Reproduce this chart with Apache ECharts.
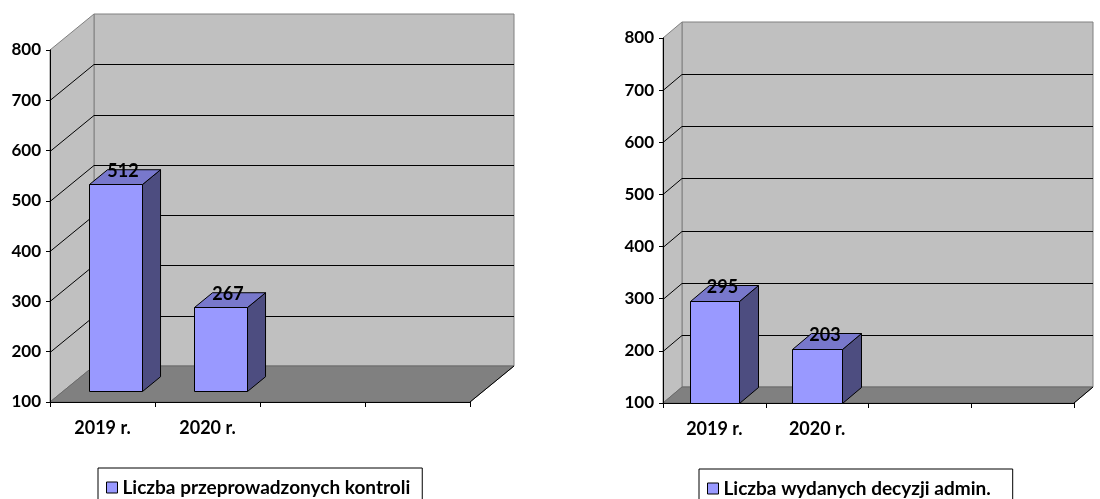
<!DOCTYPE html>
<html>
<head>
<meta charset="utf-8">
<script src="https://cdn.jsdelivr.net/npm/echarts@6/dist/echarts.min.js"></script>
<style>
html,body{margin:0;padding:0;background:#fff;}
#chart{width:1100px;height:499px;}
</style>
</head>
<body>
<div id="chart"></div>
<script>
// ---- data ----
const categories = ['2019 r.', '2020 r.', '', ''];
const controls = [512, 267];
const decisions = [295, 203];
const yTicks = [100, 200, 300, 400, 500, 600, 700, 800];
const seriesNames = ['Liczba przeprowadzonych kontroli', 'Liczba wydanych decyzji admin.'];

// ---- style / layout ----
const FONT = 'Lato';
const panels = [
  { grid: { left: 50, top: 50, width: 420, height: 352 }, dx: 44, dy: -36, d0: 0.3, d1: 0.71, bw: 0.5,
    values: controls, name: seriesNames[0], legendPos: { left: 98, top: 468 }, legendPadR: 12 },
  { grid: { left: 663, top: 38, width: 411, height: 365 }, dx: 19, dy: -16, d0: 0, d1: 1, bw: 0.48,
    values: decisions, name: seriesNames[1], legendPos: { left: 699, top: 469 }, legendPadR: 22 }
];

function r5(v) { return Math.round(v) + 0.5; }

function wallsRender(p) {
  return function (params, api) {
    const cs = params.coordSys;
    const x0 = Math.round(cs.x), x1 = Math.round(cs.x + cs.width);
    const yt = Math.round(cs.y), yb = Math.round(cs.y + cs.height);
    const dx = p.dx, dy = p.dy;
    const ch = [];
    ch.push({ type: 'polygon', shape: { points: [[x0 + dx, yt + dy], [x1 + dx, yt + dy], [x1 + dx, yb + dy], [x0 + dx, yb + dy]] },
      style: { fill: '#c0c0c0', stroke: '#808080', lineWidth: 1 } });
    ch.push({ type: 'polygon', shape: { points: [[x0, yt], [x0 + dx, yt + dy], [x0 + dx, yb + dy], [x0, yb]] },
      style: { fill: '#c0c0c0', stroke: '#808080', lineWidth: 1 } });
    yTicks.forEach(function (v, i) {
      if (i === 0 || i === yTicks.length - 1) return;
      const y = api.coord([0, v])[1];
      ch.push({ type: 'polyline', shape: { points: [[x0, r5(y)], [x0 + dx, r5(y + dy)], [x1 + dx, r5(y + dy)]] },
        style: { stroke: '#000', lineWidth: 1, fill: null } });
    });
    ch.push({ type: 'polygon', shape: { points: [[x0, yb], [x1, yb], [x1 + dx, yb + dy], [x0 + dx, yb + dy]] },
      style: { fill: '#808080', stroke: '#6a6a6a', lineWidth: 1 } });
    ch.push({ type: 'line', shape: { x1: x1, y1: yb, x2: x1 + dx, y2: yb + dy },
      style: { stroke: '#000', lineWidth: 1 } });
    return { type: 'group', children: ch };
  };
}

function barRender(p) {
  return function (params, api) {
    const cat = api.value(0), v = api.value(1);
    const top = api.coord([cat, v]);
    const bot = api.coord([cat, yTicks[0]]);
    const bandW = api.size([1, 0])[0];
    const w = bandW * p.bw;
    const ox0 = p.dx * p.d0, oy0 = p.dy * p.d0;
    const ddx = p.dx * (p.d1 - p.d0), ddy = p.dy * (p.d1 - p.d0);
    const xl = Math.round(top[0] - w / 2 + ox0) + 0.5, xr = Math.round(top[0] + w / 2 + ox0) + 0.5;
    const yt = Math.round(top[1] + oy0) + 0.5, yb = Math.round(bot[1] + oy0) + 0.5;
    const st = { stroke: '#000', lineWidth: 1 };
    return { type: 'group', children: [
      { type: 'polygon', shape: { points: [[xr, yt], [xr + ddx, yt + ddy], [xr + ddx, yb + ddy], [xr, yb]] },
        style: Object.assign({ fill: '#4d4d80' }, st) },
      { type: 'polygon', shape: { points: [[xl, yt], [xr, yt], [xr + ddx, yt + ddy], [xl + ddx, yt + ddy]] },
        style: Object.assign({ fill: '#7878cc' }, st) },
      { type: 'rect', shape: { x: xl, y: yt, width: xr - xl, height: yb - yt },
        style: Object.assign({ fill: '#9999ff' }, st) },
      { type: 'text', x: (xl + xr) / 2 + ddx / 2 - 2, y: yt + ddy / 2 - 6,
        style: { text: String(v), fill: '#000', font: 'bold 18px ' + FONT, align: 'center', verticalAlign: 'middle' } }
    ] };
  };
}

const option = { animation: false, backgroundColor: '#fff', grid: [], xAxis: [], yAxis: [], series: [], legend: [] };
panels.forEach(function (p, i) {
  option.grid.push(Object.assign({ containLabel: false }, p.grid));
  option.xAxis.push({ type: 'category', gridIndex: i, data: categories,
    axisLine: { show: true, lineStyle: { color: '#000', width: 1 } },
    axisTick: { show: true, length: 5, lineStyle: { color: '#000' } },
    axisLabel: { color: '#000', fontFamily: FONT, fontWeight: 'bold', fontSize: 18, margin: 17 },
    splitLine: { show: false } });
  option.yAxis.push({ type: 'value', gridIndex: i, min: yTicks[0], max: yTicks[yTicks.length - 1], interval: 100,
    axisLine: { show: true, lineStyle: { color: '#000', width: 1 } },
    axisTick: { show: true, length: 4, lineStyle: { color: '#000' } },
    axisLabel: { color: '#000', fontFamily: FONT, fontWeight: 'bold', fontSize: 17, margin: 9 },
    splitLine: { show: false } });
  option.series.push({ type: 'custom', name: 'walls' + i, xAxisIndex: i, yAxisIndex: i, z: -5,
    data: [[0, yTicks[0]]], encode: { x: 0, y: 1 }, renderItem: wallsRender(p), silent: true });
  option.series.push({ type: 'custom', name: p.name, xAxisIndex: i, yAxisIndex: i, z: 5,
    itemStyle: { color: '#9999ff' },
    data: p.values.map(function (v, k) { return [k, v]; }), encode: { x: 0, y: 1 }, renderItem: barRender(p) });
  option.legend.push({ data: [{ name: p.name, icon: 'rect', itemStyle: { color: '#9999ff', borderColor: '#000', borderWidth: 1 } }],
    left: p.legendPos.left, top: p.legendPos.top, orient: 'horizontal',
    itemWidth: 11, itemHeight: 11, itemGap: 5,
    padding: [10, p.legendPadR, 12, 8], borderColor: '#000', borderWidth: 1, backgroundColor: '#fff',
    textStyle: { color: '#000', fontFamily: FONT, fontWeight: 'bold', fontSize: 19 } });
});

const chart = echarts.init(document.getElementById('chart'), null, { renderer: 'canvas' });
chart.setOption(option);
</script>
</body>
</html>
